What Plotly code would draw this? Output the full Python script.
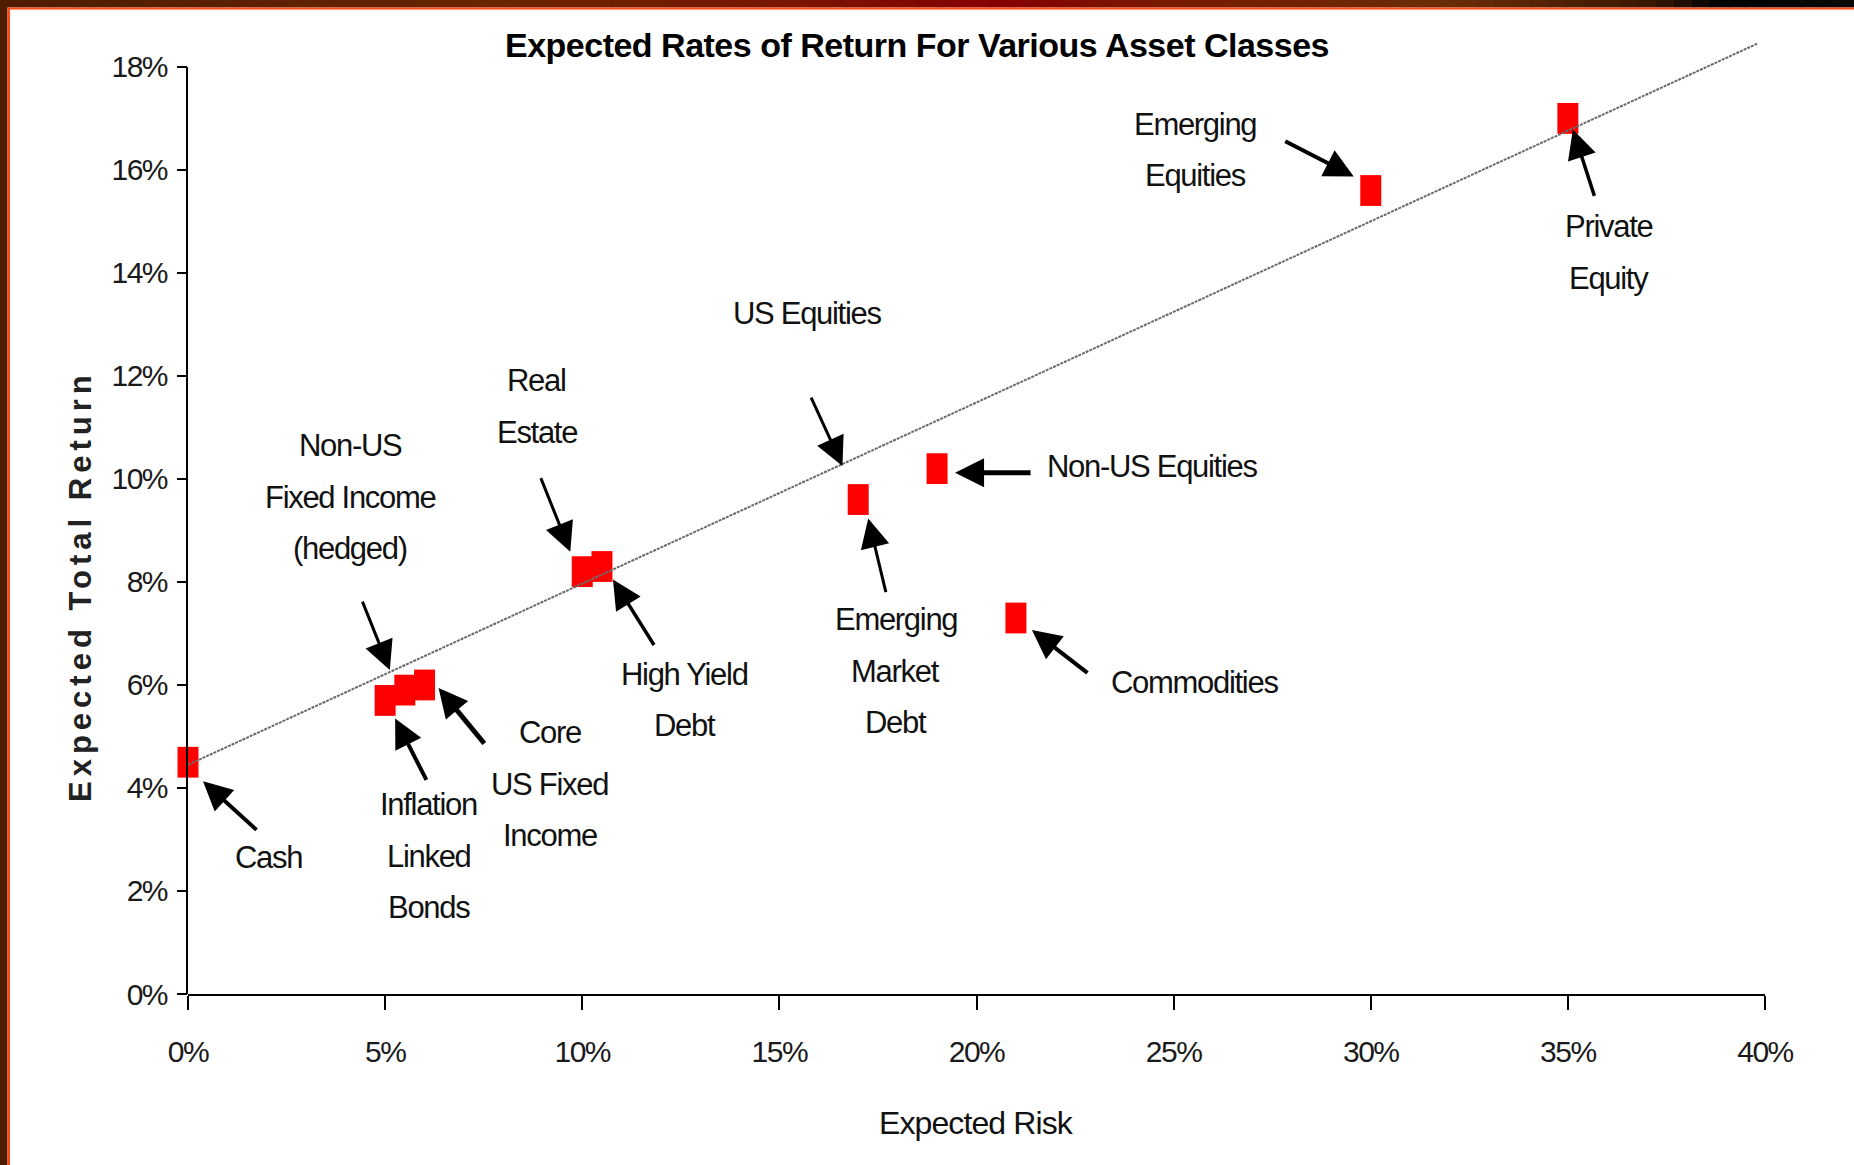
import numpy as np
import plotly.graph_objects as go

# ---- data -------------------------------------------------------------
asset_classes = [
    "Cash", "Inflation Linked Bonds", "Non-US Fixed Income (hedged)",
    "Core US Fixed Income", "Real Estate", "High Yield Debt",
    "Emerging Market Debt", "Non-US Equities", "Commodities",
    "Emerging Equities", "Private Equity",
]
expected_risk = [0.0, 5.0, 5.5, 6.0, 10.0, 10.5, 17.0, 19.0, 21.0, 30.0, 35.0]
expected_return = [4.5, 5.7, 5.9, 6.0, 8.2, 8.3, 9.6, 10.2, 7.3, 15.6, 17.0]

# fitted risk/return line
trend_risk = [0.0, 39.8]
trend_return = [4.45, 18.45]

# US Equities is only marked on the line
us_equities_risk = 16.6

x_tick_values = [0, 5, 10, 15, 20, 25, 30, 35, 40]
x_tick_labels = ["0%", "5%", "10%", "15%", "20%", "25%", "30%", "35%", "40%"]
y_tick_values = [0, 2, 4, 6, 8, 10, 12, 14, 16, 18]
y_tick_labels = ["0%", "2%", "4%", "6%", "8%", "10%", "12%", "14%", "16%", "18%"]

# ---- layout geometry --------------------------------------------------
W, H = 1854, 1165
ML, MR, MT, MB = 188, 89, 36, 171
PW, PH = W - ML - MR, H - MT - MB
Y_MAX = 18.6

FONT = "Liberation Sans, Arial, sans-serif"


def px_x(px):
    return (px - ML) / PW


def px_y(py):
    return (H - MB - py) / PH


def spaced(text, ls):
    """Wrap text in a span with the given letter spacing (px)."""
    return '<span style="letter-spacing:%.1fpx">%s</span>' % (ls, text)


# label text lines and their anchor (risk %, return %) for the first line
labels = {
    "Cash": (["Cash"], 2.05, 2.66),
    "Inflation Linked Bonds": (["Inflation", "Linked", "Bonds"], 6.11, 3.67),
    "Non-US Fixed Income (hedged)": (["Non-US", "Fixed Income", "(hedged)"], 4.11, 10.64),
    "Core US Fixed Income": (["Core", "US Fixed", "Income"], 9.18, 5.07),
    "Real Estate": (["Real", "Estate"], 8.85, 11.91),
    "High Yield Debt": (["High Yield", "Debt"], 12.60, 6.21),
    "US Equities": (["US Equities"], 15.71, 13.21),
    "Emerging Market Debt": (["Emerging", "Market", "Debt"], 17.95, 7.27),
    "Non-US Equities": (["Non-US Equities"], 24.44, 10.24),
    "Commodities": (["Commodities"], 25.54, 6.05),
    "Emerging Equities": (["Emerging", "Equities"], 25.55, 16.89),
    "Private Equity": (["Private", "Equity"], 36.04, 14.90),
}
LINE_GAP = 51.5

# arrow: head offset from the point (dx, dy px), tail offset from head (ax, ay px), width
arrows = {
    "Cash": (15, 19, 55, 50, 4),
    "Inflation Linked Bonds": (10, 18, 32, 63, 4),
    "Non-US Fixed Income (hedged)": (-15, -20, -28, -70, 3),
    "Core US Fixed Income": (14, 3, 47, 57, 5),
    "Real Estate": (-12, -20, -30, -75, 3),
    "High Yield Debt": (11, 13, 42, 67, 3.5),
    "US Equities": (0, 2, -32, -70, 3),
    "Emerging Market Debt": (10, 19, 18, 75, 3),
    "Non-US Equities": (18, 4, 77, 0, 5),
    "Commodities": (16, 12, 57, 44, 4),
    "Emerging Equities": (-17, -14, -70, -36, 4),
    "Private Equity": (5, 11, 22, 68, 3.5),
}
HEAD = 5.8  # arrow head scale in px units

fig = go.Figure()

# red rectangular markers (vertical bar symbol drawn with a thick stroke)
fig.add_trace(go.Scatter(
    x=expected_risk, y=expected_return, mode="markers",
    text=asset_classes, hoverinfo="text",
    marker=dict(symbol="line-ns", size=22, color="#ff0000",
                line=dict(width=21, color="#ff0000")),
    cliponaxis=False, showlegend=False,
))

# trend line on top of the markers
fig.add_trace(go.Scatter(
    x=trend_risk, y=trend_return, mode="lines",
    line=dict(color="#6a6a6a", width=2, dash="3px,1px"),
    hoverinfo="skip", showlegend=False,
))

# arrows
for name, (dx, dy, ax, ay, w) in arrows.items():
    if name == "US Equities":
        x0 = us_equities_risk
        y0 = float(np.interp(x0, trend_risk, trend_return))
    else:
        i = asset_classes.index(name)
        x0, y0 = expected_risk[i], expected_return[i]
    fig.add_annotation(
        x=x0, y=y0, xref="x", yref="y", text="", showarrow=True,
        arrowhead=2, arrowsize=HEAD / w, arrowwidth=w, arrowcolor="#000000",
        ax=ax, ay=ay, xshift=dx, yshift=-dy,
    )

# labels, one annotation per line for exact line spacing
for name, (lines, lx, ly) in labels.items():
    for k, line in enumerate(lines):
        fig.add_annotation(
            x=lx, y=ly, xref="x", yref="y", text=spaced(line, -1.3),
            showarrow=False, xanchor="center", yanchor="middle",
            yshift=-k * LINE_GAP,
            font=dict(family=FONT, size=31, color="#111111"),
        )

# axis titles
fig.add_annotation(
    x=0.5, y=px_y(1123), xref="paper", yref="paper",
    text=spaced("Expected Risk", -0.9),
    showarrow=False, xanchor="center", yanchor="middle",
    font=dict(family=FONT, size=32, color="#111111"),
)
fig.add_annotation(
    x=px_x(80), y=px_y(586), xref="paper", yref="paper",
    text="<b>" + spaced("Expected Total Return", 5.0) + "</b>", textangle=-90,
    showarrow=False, xanchor="center", yanchor="middle",
    font=dict(family=FONT, size=31, color="#222222"),
)

shapes = []
# y axis line, stopping at the top tick
shapes.append(dict(type="line", xref="paper", yref="paper",
                   x0=px_x(187), x1=px_x(187), y0=0, y1=18 / Y_MAX,
                   line=dict(color="#000000", width=2)))

# frame: dark band along the top and left with a bright inner edge
stops = [(0, (0x4e, 0x1c, 0x00)), (500, (0x6a, 0x24, 0x00)), (800, (0x7a, 0x14, 0x00)),
         (1000, (0x85, 0x00, 0x00)), (1150, (0x7a, 0x18, 0x00)), (1450, (0x6a, 0x2c, 0x08)),
         (1650, (0x3a, 0x18, 0x00)), (1720, (0x00, 0x00, 0x00)), (1854, (0x0a, 0x0a, 0x0a))]
sx = [s[0] for s in stops]
step = 18
for x0 in range(0, W, step):
    xc = x0 + step / 2
    rgb = [int(round(np.interp(xc, sx, [s[1][c] for s in stops]))) for c in range(3)]
    shapes.append(dict(type="rect", xref="paper", yref="paper",
                       x0=px_x(x0), x1=px_x(min(x0 + step + 1, W)),
                       y0=px_y(7.5), y1=px_y(-1),
                       fillcolor="rgb(%d,%d,%d)" % tuple(rgb), line=dict(width=0), layer="above"))
shapes.append(dict(type="rect", xref="paper", yref="paper",
                   x0=px_x(9), x1=px_x(W + 1), y0=px_y(9.5), y1=px_y(7.5),
                   fillcolor="#ff4a14", line=dict(width=0), layer="above"))
shapes.append(dict(type="rect", xref="paper", yref="paper",
                   x0=px_x(-1), x1=px_x(7.5), y0=px_y(H + 1), y1=px_y(7),
                   fillcolor="#4e1c00", line=dict(width=0), layer="above"))
shapes.append(dict(type="rect", xref="paper", yref="paper",
                   x0=px_x(7.5), x1=px_x(10), y0=px_y(H + 1), y1=px_y(7.5),
                   fillcolor="#ff4a14", line=dict(width=0), layer="above"))

tick_font = dict(family=FONT, size=30, color="#1a1a1a")

fig.update_layout(
    width=W, height=H,
    margin=dict(l=ML, r=MR, t=MT, b=MB, pad=0),
    paper_bgcolor="#ffffff", plot_bgcolor="#ffffff",
    showlegend=False,
    title=dict(
        text="<b>" + spaced("Expected Rates of Return For Various Asset Classes", -0.5) + "</b>",
        x=917 / W, xref="container", xanchor="center",
        y=1 - 45 / H, yref="container", yanchor="middle",
        font=dict(family=FONT, size=34, color="#000000"),
    ),
    xaxis=dict(
        range=[0, 40], tickvals=x_tick_values,
        ticktext=[spaced(t, -1.5) for t in x_tick_labels],
        showgrid=False, zeroline=False,
        showline=True, linecolor="#000000", linewidth=2,
        ticks="outside", ticklen=14, tickwidth=2, tickcolor="#000000",
        ticklabelstandoff=16, tickfont=tick_font, fixedrange=True,
    ),
    yaxis=dict(
        range=[0, Y_MAX], tickvals=y_tick_values,
        ticktext=[spaced(t, -1.5) for t in y_tick_labels],
        showgrid=False, zeroline=False, showline=False,
        ticks="outside", ticklen=10, tickwidth=2, tickcolor="#000000",
        ticklabelstandoff=4, tickfont=tick_font, fixedrange=True,
    ),
    shapes=shapes,
)

fig.write_html("out.html", config={"displayModeBar": False})
